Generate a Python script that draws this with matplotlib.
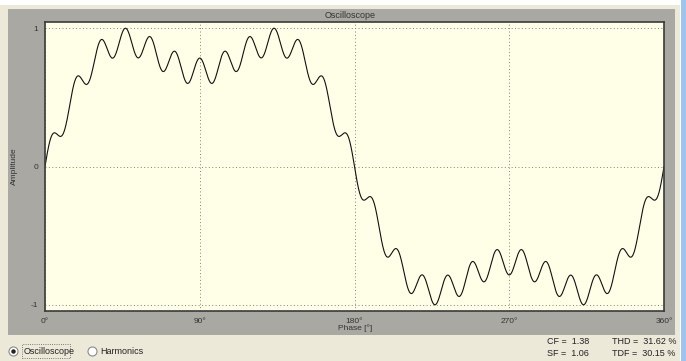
import numpy as np
import matplotlib
matplotlib.use('Agg')
import matplotlib.pyplot as plt
from matplotlib.patches import Rectangle
from matplotlib.lines import Line2D

# harmonic content (order, relative amplitude)
orders = [1, 3, 25]
amplitudes = [1.0, 0.3, 0.1]

stats_left = ['CF =  1.38', 'SF =  1.06']
stats_right = ['THD =  31.62 %', 'TDF =  30.15 %']
x_ticks = [0, 90, 180, 270, 360]
x_labels = ['0°', '90°', '180°', '270°', '360°']
y_ticks = [-1, 0, 1]

W, H = 686, 361

phase = np.linspace(0, 360, 2000)
wave = np.zeros_like(phase)
for n, a in zip(orders, amplitudes):
    wave += a * np.sin(np.radians(n * phase))
wave = wave / np.abs(wave).max()

plt.rcParams['font.family'] = ['Liberation Sans', 'DejaVu Sans']

fig = plt.figure(figsize=(W / 100, H / 100), dpi=100, facecolor='#ECE9D8')


def box(x0, y0, x1, y1, z=-5, **kw):
    r = Rectangle((x0 / W, 1 - y1 / H), (x1 - x0) / W, (y1 - y0) / H,
                  transform=fig.transFigure, zorder=z, **kw)
    fig.add_artist(r)
    return r


def ftext(x, y, s, **kw):
    fig.text(x / W, 1 - y / H, s, **kw)


# window chrome
box(0, 0, W, 5, facecolor='white', edgecolor='none')
box(680, 0, W, H, facecolor='white', edgecolor='none')
box(681, 0, W, H, facecolor='#9DC3EE', edgecolor='none')
box(8, 9, 675, 335, facecolor='#A9A8A3', edgecolor='none')

ax = fig.add_axes([45 / W, 1 - 311 / H, (664 - 45) / W, (311 - 22) / H])
ax.set_zorder(2)
ax.set_facecolor('#FFFFE8')
ax.plot(phase, wave, color='#111111', lw=0.8)
ax.set_xlim(0, 360)
ax.set_ylim(-1.045, 1.045)
ax.set_xticks(x_ticks)
ax.set_xticklabels(x_labels)
ax.set_yticks(y_ticks)
ax.set_yticklabels(['-1', '0', '1'])
ax.tick_params(length=0, labelsize=6, colors='#333333', pad=5)
ax.grid(True, linestyle=(0, (1, 2.5)), color='#808080', lw=0.7)
for s in ax.spines.values():
    s.set_color('#3A3A3A')
    s.set_linewidth(1.2)

ftext(350, 15, 'Oscilloscope', fontsize=6.5, color='#333333', ha='center', va='center')
ftext(355, 328, 'Phase [°]', fontsize=6, color='#333333', ha='center', va='center')
ftext(14, 166, 'Amplitude', fontsize=6, color='#333333', ha='center', va='center',
      rotation=90)

# radio buttons
fig.add_artist(Line2D([13 / W], [1 - 351 / H], marker='o', ms=6.5, mfc='white',
                      mec='#8A8A8A', mew=0.8, transform=fig.transFigure))
fig.add_artist(Line2D([13 / W], [1 - 351 / H], marker='o', ms=2.2, mfc='#222222',
                      mec='#222222', transform=fig.transFigure))
fig.add_artist(Line2D([92 / W], [1 - 351 / H], marker='o', ms=6.5, mfc='white',
                      mec='#8A8A8A', mew=0.8, transform=fig.transFigure))
box(22, 344, 70, 358, z=1, facecolor='none', edgecolor='#555555', lw=0.6, linestyle=':')
ftext(24, 351, 'Oscilloscope', fontsize=6.5, color='#222222', va='center')
ftext(100, 351, 'Harmonics', fontsize=6.5, color='#222222', va='center')

for i, s in enumerate(stats_left):
    ftext(547, 342 + 12 * i, s, fontsize=6.5, color='#222222', va='center')
for i, s in enumerate(stats_right):
    ftext(612, 342 + 12 * i, s, fontsize=6.5, color='#222222', va='center')

fig.savefig('out.png', dpi=100, facecolor=fig.get_facecolor())
